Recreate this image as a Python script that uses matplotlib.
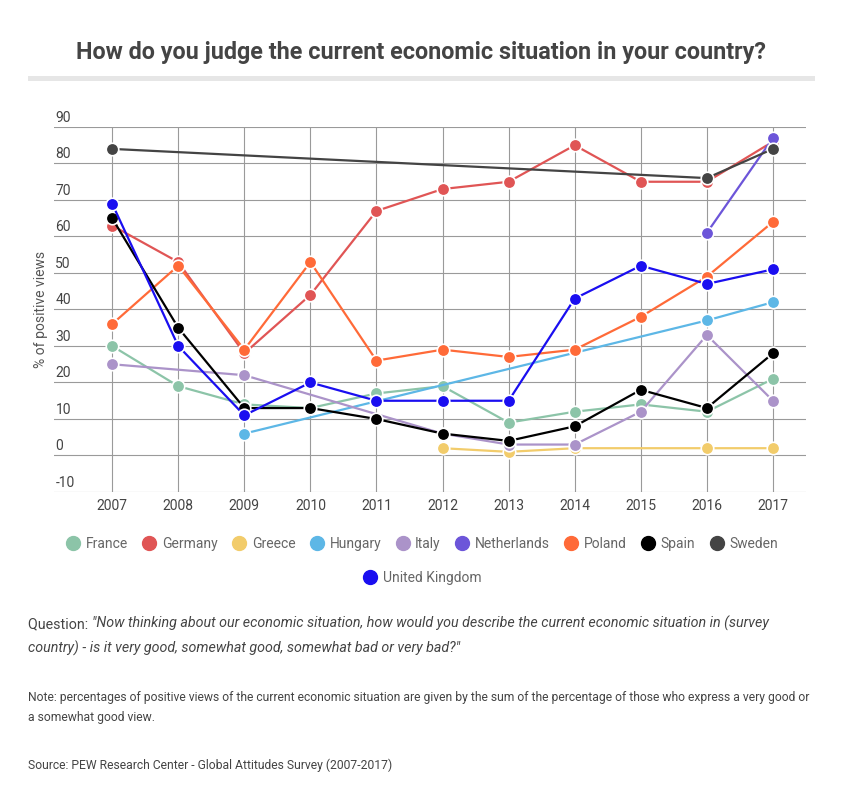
import numpy as np
import matplotlib
matplotlib.use('Agg')
import matplotlib.pyplot as plt
from matplotlib.lines import Line2D
from matplotlib.patches import Rectangle

plt.rcParams['font.family'] = ['Roboto', 'DejaVu Sans']

years = [2007, 2008, 2009, 2010, 2011, 2012, 2013, 2014, 2015, 2016, 2017]
N = None

# % of positive views (None = no survey that year)
france      = [30, 19, 14, 13, 17, 19, 9, 12, 14, 12, 21]
germany     = [63, 53, 28, 44, 67, 73, 75, 85, 75, 75, 86]
greece      = [N, N, N, N, N, 2, 1, 2, N, 2, 2]
hungary     = [N, N, 6, N, N, N, N, N, N, 37, 42]
italy       = [25, N, 22, N, N, 6, 3, 3, 12, 33, 15]
netherlands = [N, N, N, N, N, N, N, N, N, 61, 87]
poland      = [36, 52, 29, 53, 26, 29, 27, 29, 38, 49, 64]
spain       = [65, 35, 13, 13, 10, 6, 4, 8, 18, 13, 28]
sweden      = [84, N, N, N, N, N, N, N, N, 76, 84]
uk          = [69, 30, 11, 20, 15, 15, 15, 43, 52, 47, 51]

countries = ['France', 'Germany', 'Greece', 'Hungary', 'Italy', 'Netherlands',
             'Poland', 'Spain', 'Sweden', 'United Kingdom']
series = [france, germany, greece, hungary, italy, netherlands,
          poland, spain, sweden, uk]
colors = ['#8cc4a8', '#e05555', '#f2cc6b', '#5db7e6', '#ab93c9', '#6c55d9',
          '#ff6a38', '#000000', '#444444', '#1a0ef0']

fig = plt.figure(figsize=(8.43, 8.05), dpi=100)
ax = fig.add_axes([54/843, 1-492/805, (806-54)/843, (492-127)/805])

x_all = np.array(years, dtype=float)
for name, vals, c in zip(countries, series, colors):
    y = np.array([np.nan if v is None else v for v in vals], dtype=float)
    m = ~np.isnan(y)
    ax.plot(x_all[m], y[m], color=c, lw=1.6, marker='o', ms=9,
            mec='white', mew=1.2, label=name, zorder=3)

ax.set_xlim(2006.12, 2017.5)
ax.set_ylim(-10, 90)
ax.set_xticks(years)
ax.set_xticklabels([str(y) for y in years], fontsize=10, color='#444444')
yt = list(range(-10, 91, 10))
ax.set_yticks(yt)
ax.set_yticklabels([])
ax.tick_params(length=0, pad=5)
ax.grid(True, color='#9a9a9a', lw=0.8)
ax.set_axisbelow(True)
for s in ax.spines.values():
    s.set_visible(False)

for v in yt:
    ax.annotate(str(v), xy=(0, v), xycoords=('axes fraction', 'data'),
                xytext=(1, 1.5), textcoords='offset points',
                ha='left', va='bottom', fontsize=10, color='#444444')

ax.set_ylabel('% of positive views', fontsize=10, color='#555555', labelpad=-1)

# title and bar
fig.text(421/843, 1-52/805, 'How do you judge the current economic situation in your country?',
         ha='center', va='center', fontsize=16.8, fontweight='bold', color='#444444')
fig.patches.append(Rectangle((28/843, 1-81/805), (815-28)/843, 5/805,
                             transform=fig.transFigure, color='#e6e6e6', lw=0))

# legend (two rows)
handles = [Line2D([], [], ls='none', marker='o', ms=10, color=c, mec=c) for c in colors]
fig.legend(handles[:9], countries[:9], loc='center', ncol=9,
           bbox_to_anchor=(0.5, 1-544/805), frameon=False, fontsize=10,
           handletextpad=0.3, columnspacing=0.95, handlelength=1.2,
           labelcolor='#666666')
fig.legend(handles[9:], countries[9:], loc='center', ncol=1,
           bbox_to_anchor=(0.5, 1-578/805), frameon=False, fontsize=10,
           handletextpad=0.3, handlelength=1.2, labelcolor='#666666')

# notes
q = fig.text(28/843, 1-628/805, 'Question: ', ha='left', va='baseline',
             fontsize=10.3, color='#444444')
ax.annotate('"Now thinking about our economic situation, how would you describe the current economic situation in (survey',
            xy=(1, 0), xycoords=q, ha='left', va='bottom', fontsize=10.3,
            color='#444444', style='italic', annotation_clip=False)
fig.text(28/843, 1-648/805,
         'country) - is it very good, somewhat good, somewhat bad or very bad?"',
         ha='left', va='center', fontsize=10.3, color='#444444', style='italic')
fig.text(28/843, 1-697/805,
         'Note: percentages of positive views of the current economic situation are given by the sum of the percentage of those who express a very good or',
         ha='left', va='center', fontsize=8.7, color='#444444')
fig.text(28/843, 1-717/805, 'a somewhat good view.',
         ha='left', va='center', fontsize=8.7, color='#444444')
fig.text(28/843, 1-765/805, 'Source: PEW Research Center - Global Attitudes Survey (2007-2017)',
         ha='left', va='center', fontsize=8.7, color='#444444')

fig.savefig('out.png', dpi=100, facecolor='white')
